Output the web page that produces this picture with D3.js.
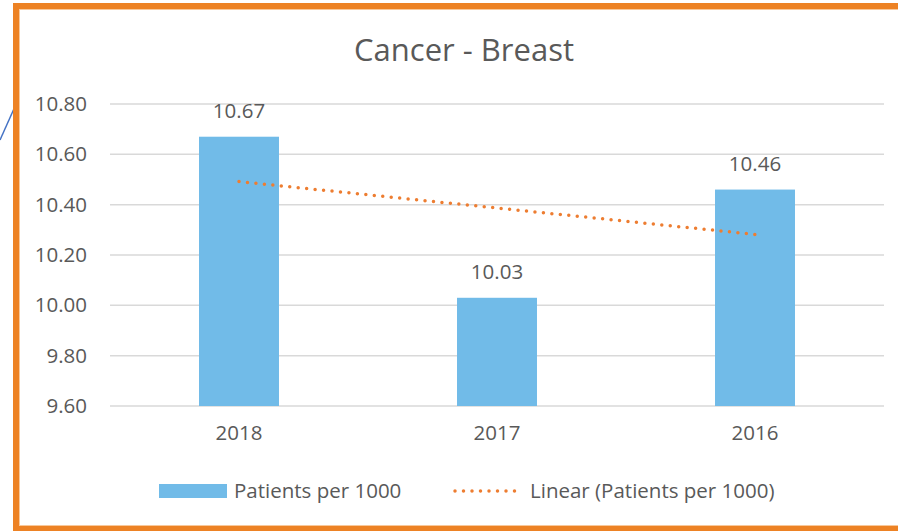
<!DOCTYPE html>
<html>
<head>
<meta charset="utf-8">
<script src="https://cdn.jsdelivr.net/npm/d3@7"></script>
<style>
  body { margin: 0; background: #fff; }
  text { font-family: "Open Sans", sans-serif; fill: #595959; }
</style>
</head>
<body>
<svg id="chart"></svg>
<script>
// data
var years = ["2018", "2017", "2016"];
var patients = [10.67, 10.03, 10.46];
var yTicks = [9.6, 9.8, 10.0, 10.2, 10.4, 10.6, 10.8];
var chartTitle = "Cancer - Breast";
var seriesName = "Patients per 1000";
var trendName = "Linear (Patients per 1000)";

function init(){
    var W = 898, H = 531;
    var fs = 20.5;
    var svg = d3.select("#chart").attr("width", W).attr("height", H);

    // little connector line at the left edge
    svg.append("line")
        .attr("x1", 0).attr("y1", 140).attr("x2", 17).attr("y2", 102)
        .attr("stroke", "#4472C4").attr("stroke-width", 1.5);

    // plot area
    var margin = {top: 104, left: 110, right: 14, bottom: 125};
    var width = W - margin.left - margin.right;
    var height = H - margin.top - margin.bottom;

    var g = svg.append("g")
        .attr("transform", "translate(" + margin.left + "," + margin.top + ")");

    var x = d3.scaleBand().domain(years).range([0, width]).padding(0);
    var y = d3.scaleLinear().domain([9.6, 10.8]).range([height, 0]);

    // gridlines
    g.selectAll(".grid")
        .data(yTicks)
        .enter().append("line")
        .attr("x1", 0).attr("x2", width)
        .attr("y1", function(d) { return y(d); })
        .attr("y2", function(d) { return y(d); })
        .attr("stroke", "#D9D9D9").attr("stroke-width", 1.5);

    // y axis labels
    var yAxis = d3.axisLeft(y).tickValues(yTicks).tickSize(0).tickPadding(23)
        .tickFormat(d3.format(".2f"));
    var ya = g.append("g").call(yAxis);
    ya.select(".domain").remove();
    ya.selectAll("text").attr("font-size", fs).attr("fill", "#595959")
        .attr("font-family", "'Open Sans', sans-serif");

    // x axis labels
    var xAxis = d3.axisBottom(x).tickSize(0).tickPadding(19);
    var xa = g.append("g").attr("transform", "translate(0," + height + ")").call(xAxis);
    xa.select(".domain").remove();
    xa.selectAll("text").attr("font-size", fs).attr("fill", "#595959")
        .attr("font-family", "'Open Sans', sans-serif");

    // bars
    var barW = x.bandwidth() * 0.31;
    g.selectAll(".bar")
        .data(patients)
        .enter().append("rect")
        .attr("class", "bar")
        .attr("x", function(d, i) { return x(years[i]) + (x.bandwidth() - barW) / 2; })
        .attr("y", function(d) { return y(d); })
        .attr("width", barW)
        .attr("height", function(d) { return height - y(d); })
        .attr("fill", "#71BBE8");

    // data labels
    g.selectAll(".lbl")
        .data(patients)
        .enter().append("text")
        .attr("x", function(d, i) { return x(years[i]) + x.bandwidth() / 2; })
        .attr("y", function(d) { return y(d) - 19; })
        .attr("text-anchor", "middle")
        .attr("font-size", fs)
        .text(function(d) { return d3.format(".2f")(d); });

    // linear trendline (least squares over index 1..n)
    var n = patients.length;
    var xs = d3.range(1, n + 1);
    var mx = d3.mean(xs), my = d3.mean(patients);
    var slope = d3.sum(xs, function(v, i) { return (v - mx) * (patients[i] - my); }) /
                d3.sum(xs, function(v) { return (v - mx) * (v - mx); });
    var icpt = my - slope * mx;
    var trend = [xs[0], xs[n - 1]].map(function(v) {
        return [x(years[v - 1]) + x.bandwidth() / 2, y(icpt + slope * v)];
    });
    g.append("path")
        .attr("d", d3.line()(trend))
        .attr("fill", "none")
        .attr("stroke", "#ED7D31")
        .attr("stroke-width", 3.5)
        .attr("stroke-linecap", "round")
        .attr("stroke-dasharray", "0,8.5");

    // title
    svg.append("text")
        .attr("x", 464).attr("y", 61)
        .attr("text-anchor", "middle")
        .attr("font-size", 31)
        .text(chartTitle);

    // legend
    var lg = svg.append("g");
    lg.append("rect").attr("x", 159).attr("y", 484).attr("width", 68).attr("height", 14)
        .attr("fill", "#71BBE8");
    lg.append("text").attr("x", 234).attr("y", 498).attr("font-size", fs).text(seriesName);
    lg.append("line").attr("x1", 455).attr("x2", 515).attr("y1", 491).attr("y2", 491)
        .attr("stroke", "#ED7D31").attr("stroke-width", 3.5)
        .attr("stroke-linecap", "round").attr("stroke-dasharray", "0,8.5");
    lg.append("text").attr("x", 530).attr("y", 498).attr("font-size", fs).text(trendName);

    // orange frame (runs off the right edge)
    svg.append("rect")
        .attr("x", 16).attr("y", 6).attr("width", 1000).attr("height", 523)
        .attr("fill", "none").attr("stroke", "#ED8224").attr("stroke-width", 6);
    svg.append("rect")
        .attr("x", 19.5).attr("y", 9.5).attr("width", 1000).attr("height", 516)
        .attr("fill", "none").attr("stroke", "#F8C89A").attr("stroke-width", 1);
}
window.onload = init;
</script>
</body>
</html>
